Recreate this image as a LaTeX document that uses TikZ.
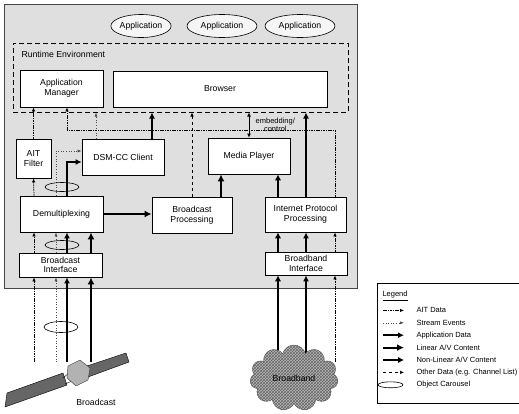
\documentclass[tikz,border=0pt]{standalone}
\usepackage{fontspec}
\setmainfont{Liberation Sans}
\usetikzlibrary{arrows.meta,shapes.geometric,shapes.symbols,patterns}

\begin{document}
\begin{tikzpicture}[x=1pt,y=-1pt,font=\fontsize{8.7}{9.7}\selectfont,
	blk/.style={draw,fill=white,line width=0.8pt,align=center,inner sep=1pt},
	app/.style={draw,ellipse,fill=gray!8,line width=0.6pt,minimum height=23,inner sep=0pt},
	car/.style={draw,ellipse,line width=0.6pt,minimum width=34,minimum height=10,inner sep=0pt},
	lg/.style={font=\fontsize{7.5}{8}\selectfont},
	ait/.style={dash pattern=on 1.6pt off 0.8pt,line width=0.7pt,-{Latex[length=4pt,width=3.5pt]}},
	stream/.style={dotted,gray!60!black,line width=0.6pt,-{Latex[length=4pt,width=3pt]}},
	appdata/.style={line width=1.5pt,-{Latex[length=6pt,width=6pt]}},
	linav/.style={line width=2.2pt,-{Latex[length=7pt,width=7pt]}},
	nlinav/.style={line width=1.9pt,-{Latex[length=6pt,width=6.5pt]}},
	other/.style={dashed,line width=0.6pt,-{Latex[length=4pt,width=3.5pt]}}]
	\useasboundingbox (0,0) rectangle (519,413);
	
	\draw[fill=gray!25,draw=gray!55!black,line width=0.6pt] (4,4) rectangle (357,288);
	
	\node[app,minimum width=58](app1)at(141,26) {Application};
	\node[app,minimum width=70](app2)at(222,26) {Application};
	\node[app,minimum width=70](app3)at(300,26) {Application};
	
	\node[draw,dash pattern=on 5pt off 3pt,line width=1pt,minimum width=335,minimum height=69,inner sep=0pt](rte)at(180.5,77.5) {};
	\node[anchor=west](rtel)at(18,54) {Runtime Environment};
	
	\node[blk,minimum width=83,minimum height=37](appmgr)at(61.5,88.5) {Application\\Manager};
	\node[blk,minimum width=214,minimum height=36](browser)at(220,89) {Browser};
	\node[blk,minimum width=35,minimum height=39](aitf)at(33.5,158.5) {AIT\\Filter};
	\node[blk,minimum width=82,minimum height=36](dsmcc)at(123,157) {DSM-CC Client};
	\node[blk,minimum width=82,minimum height=36](mplayer)at(249,156) {Media Player};
	\node[blk,minimum width=83,minimum height=36](demux)at(61.5,214) {Demultiplexing};
	\node[blk,minimum width=80,minimum height=36](bproc)at(192,215) {Broadcast\\Processing};
	\node[blk,minimum width=81,minimum height=35](ipproc)at(305.5,214.5) {Internet Protocol\\Processing};
	\node[blk,minimum width=83,minimum height=24](bcif)at(60.5,265) {Broadcast\\Interface};
	\node[blk,minimum width=82,minimum height=23](bbif)at(306,263.5) {Broadband\\Interface};
	
	% lanes
	\coordinate (la) at (34,0);
	\coordinate (ls) at (56,0);
	\coordinate (ld) at (67,0);
	\coordinate (ll) at (91,0);
	\coordinate (ln) at (278,0);
	\coordinate (lb) at (306,0);
	\coordinate (lt) at (335,0);
	\coordinate (sat) at (0,362);
	\coordinate (bb) at (0,362);
	\coordinate (bus) at (0,130);
	
	% broadcast side
	\draw[ait] (sat -| la) -- (bcif.south -| la);
	\draw[stream] (sat -| ls) -- (bcif.south -| ls);
	\draw[appdata] (sat -| ld) -- (bcif.south -| ld);
	\draw[linav] (sat -| ll) -- (bcif.south -| ll);
	\node[car,minimum height=11](car1)at(61,327) {};
	
	\draw[ait] (bcif.north -| la) -- (demux.south -| la);
	\draw[stream] (bcif.north -| ls) -- (demux.south -| ls);
	\draw[appdata] (bcif.north -| ld) -- (demux.south -| ld);
	\draw[linav] (bcif.north -| ll) -- (demux.south -| ll);
	\node[car,minimum height=9](car2)at(62,245) {};
	
	\draw[ait] (demux.north -| la) -- (aitf.south);
	\draw[stream] (demux.north -| ls) |- ([yshift=6pt]dsmcc.west);
	\draw[appdata] (demux.north -| ld) |- ([yshift=-5pt]dsmcc.west);
	\node[car,minimum height=9](car3)at(62,187) {};
	\draw[linav] (demux.east) -- (demux.east -| bproc.west);
	
	\draw[ait] (aitf.north) -- (aitf.north |- appmgr.south);
	\draw[stream] ([xshift=-27pt]dsmcc.north) -- ([xshift=-27pt]dsmcc.north |- rte.south);
	\draw[appdata] ([xshift=29pt]dsmcc.north) -- ([xshift=29pt]dsmcc.north |- rte.south);
	\draw[other] (bproc.north) -- (bproc.north |- rte.south);
	\draw[linav] ([xshift=29pt]bproc.north) -- ([xshift=29pt]bproc.north |- mplayer.south);
	\draw[line width=0.8pt,{Latex[length=4pt,width=4pt]}-{Latex[length=4pt,width=4pt]}] (mplayer.north) -- (mplayer.north |- rte.south) node[midway,right,lg,align=center,xshift=3pt]{embedding/\\control};
	
	% broadband side
	\draw[nlinav] (ipproc.north -| ln) -- (mplayer.south -| ln);
	\draw[appdata] (ipproc.north -| lb) -- (rte.south -| lb);
	\draw[ait] (ipproc.north -| lt) |- (bus -| ld) -- (appmgr.south -| ld);
	
	\draw[nlinav] (bbif.north -| ln) -- (ipproc.south -| ln);
	\draw[appdata] (bbif.north -| lb) -- (ipproc.south -| lb);
	\draw[ait] (bbif.north -| lt) -- (ipproc.south -| lt);
	\draw[nlinav] (bb -| ln) -- (bbif.south -| ln);
	\draw[appdata] (bb -| lb) -- (bbif.south -| lb);
	\draw[ait] (bb -| lt) -- (bbif.south -| lt);
	
	\node[cloud,cloud puffs=11,aspect=1.35,draw=black!70,preaction={fill=gray!55},pattern=crosshatch,pattern color=black!60,minimum width=88,minimum height=66,inner sep=0pt](cloud)at(294,378) {Broadband};
	
	% satellite
	\filldraw[fill=black!60,draw=black] (7,393) -- (63,373) -- (67,385) -- (5,407) -- cycle;
	\filldraw[fill=black!60,draw=black] (84,367) -- (126,353) -- (129,362) -- (88,377) -- cycle;
	\draw[thin] (63,378) -- (70,372) (65,384) -- (72,381) (84,369) -- (88,372) (86,375) -- (88,378);
	\filldraw[fill=gray!60,draw=black!80] (68,366) -- (80,360) -- (90,368) -- (88,380) -- (76,386) -- (67,378) -- cycle;
	\node(bcl)at(96,402) {Broadcast};
	
	% legend
	\draw[line width=0.6pt] (377,283) rectangle (521,403);
	\node[anchor=west,lg](legt)at(379,296) {\underline{Legend}};
	\foreach \s/\t [count=\i] in {ait/{AIT Data},stream/{Stream Events},appdata/{Application Data},linav/{Linear A/V Content},nlinav/{Non-Linear A/V Content},other/{Other Data (e.g. Channel List)}}
	{
		\draw[\s] (383,298+12.4*\i) -- (404,298+12.4*\i);
		\node[anchor=west,lg](leg\i)at(413,298+12.4*\i) {\t};
	}
	\node[car,minimum width=25,minimum height=6](legc)at(390.5,384.8) {};
	\node[anchor=west,lg](leg7)at(413,384.8) {Object Carousel};
\end{tikzpicture}
\end{document}
